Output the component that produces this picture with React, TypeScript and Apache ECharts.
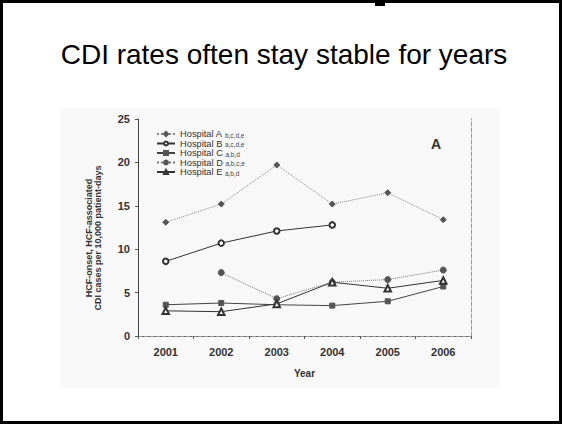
import React, { useEffect, useRef } from "react";
import * as echarts from "echarts";

const years = ["2001", "2002", "2003", "2004", "2005", "2006"];
const hospitalA = [13.1, 15.2, 19.7, 15.2, 16.5, 13.4];
const hospitalB = [8.6, 10.7, 12.1, 12.8, null, null];
const hospitalC = [3.6, 3.8, 3.6, 3.5, 4.0, 5.7];
const hospitalD = [null, 7.3, 4.3, 6.2, 6.5, 7.6];
const hospitalE = [2.9, 2.8, 3.7, 6.2, 5.5, 6.4];
const seriesNames = ["Hospital A", "Hospital B", "Hospital C", "Hospital D", "Hospital E"];
const significance = ["b,c,d,e", "a,c,d,e", "a,b,d", "a,b,c,e", "a,b,d"];
const yTicks = [0, 5, 10, 15, 20, 25];

const FONT = "'Liberation Sans', Arial, sans-serif";

export default function App() {
  const ref = useRef<HTMLDivElement>(null);
  useEffect(() => {
    if (!ref.current) return;
    const chart = echarts.init(ref.current, null, { renderer: "svg" });
    const supMap: Record<string, string> = {};
    seriesNames.forEach((n, i) => (supMap[n] = significance[i]));
    const mk = (
      name: string,
      data: (number | null)[],
      symbol: string,
      lineColor: string,
      lineType: string,
      symColor: string,
      size: number
    ) => ({
      name,
      type: "line",
      data,
      symbol,
      symbolSize: size,
      showSymbol: true,
      connectNulls: false,
      lineStyle: { color: lineColor, width: 1, type: lineType },
      itemStyle: { color: symColor, borderColor: symColor, borderWidth: 1 },
      emphasis: { disabled: true },
    });
    chart.setOption({
      animation: false,
      backgroundColor: "#ffffff",
      textStyle: { fontFamily: FONT },
      graphic: [
        { type: "rect", z: -10, shape: { x: 60, y: 108, width: 440, height: 279 }, style: { fill: "#f8f8f8" } },
        { type: "rect", shape: { x: 0, y: 0, width: 562, height: 3 }, style: { fill: "#000" } },
        { type: "rect", shape: { x: 0, y: 0, width: 3, height: 424 }, style: { fill: "#000" } },
        { type: "rect", shape: { x: 559, y: 0, width: 3, height: 424 }, style: { fill: "#000" } },
        { type: "rect", shape: { x: 0, y: 421, width: 562, height: 3 }, style: { fill: "#000" } },
        { type: "rect", shape: { x: 375, y: 0, width: 10, height: 6 }, style: { fill: "#000" } },
        {
          type: "text",
          x: 284,
          y: 54.5,
          style: {
            text: "CDI rates often stay stable for years",
            font: `28px ${FONT}`,
            fill: "#000",
            align: "center",
            verticalAlign: "middle",
          },
        },
        {
          type: "text",
          x: 93.5,
          y: 238,
          rotation: Math.PI / 2,
          style: {
            text: "HCF-onset, HCF-associated\nCDI cases per 10,000 patient-days",
            font: `bold 9px ${FONT}`,
            lineHeight: 9.5,
            fill: "#333",
            align: "center",
            verticalAlign: "middle",
          },
        },
        {
          type: "text",
          x: 436,
          y: 143.5,
          style: {
            text: "A",
            font: `bold 14px ${FONT}`,
            fill: "#333",
            align: "center",
            verticalAlign: "middle",
          },
        },
      ],
      grid: { left: 138, right: 91, top: 119, bottom: 88, containLabel: false },
      legend: {
        data: seriesNames,
        orient: "vertical",
        left: 156,
        top: 129.5,
        padding: 0,
        itemWidth: 18,
        itemHeight: 5,
        itemGap: 0.5,
        selectedMode: false,
        formatter: (name: string) => `{n|${name} }{s|${supMap[name]}}`,
        textStyle: {
          color: "#333",
          fontSize: 9,
          lineHeight: 9,
          rich: {
            n: { fontSize: 9.3, fontFamily: FONT, color: "#333", lineHeight: 9 },
            s: { fontSize: 6.5, fontFamily: FONT, color: "#444", lineHeight: 9, verticalAlign: "bottom" },
          },
        },
      },
      xAxis: [
        {
          type: "category",
          data: years,
          boundaryGap: true,
          name: "Year",
          nameLocation: "middle",
          nameGap: 32,
          nameTextStyle: { fontFamily: FONT, fontWeight: "bold", fontSize: 10, color: "#333" },
          axisLine: { lineStyle: { color: "#444", width: 1 } },
          axisTick: { show: true, length: 3, lineStyle: { color: "#555" } },
          axisLabel: { fontFamily: FONT, fontWeight: "bold", fontSize: 11, color: "#333", margin: 10 },
          splitLine: { show: false },
        },
        {
          type: "category",
          data: years,
          position: "top",
          axisLine: { lineStyle: { color: "#999", width: 1, type: "dashed" } },
          axisTick: { show: false },
          axisLabel: { show: false },
          splitLine: { show: false },
        },
      ],
      yAxis: [
        {
          type: "value",
          min: 0,
          max: 25,
          interval: 5,
          axisLine: { show: true, lineStyle: { color: "#444", width: 1 } },
          axisTick: { show: true, length: 3, lineStyle: { color: "#555" } },
          axisLabel: {
            fontFamily: FONT,
            fontWeight: "bold",
            fontSize: 11,
            color: "#333",
            margin: 8,
            formatter: (v: number) => (yTicks.includes(v) ? String(v) : ""),
          },
          splitLine: { show: false },
        },
        {
          type: "value",
          min: 0,
          max: 25,
          interval: 5,
          position: "right",
          axisLine: { show: true, lineStyle: { color: "#999", width: 1, type: "dashed" } },
          axisTick: { show: false },
          axisLabel: { show: false },
          splitLine: { show: false },
        },
      ],
      series: [
        mk("Hospital A", hospitalA, "diamond", "#888", "dotted", "#555", 6),
        mk("Hospital B", hospitalB, "emptyCircle", "#333", "solid", "#333", 5.5),
        mk("Hospital C", hospitalC, "rect", "#444", "solid", "#555", 5),
        mk("Hospital D", hospitalD, "circle", "#777", "dotted", "#555", 6),
        mk("Hospital E", hospitalE, "emptyTriangle", "#333", "solid", "#333", 6.5),
      ],
    });
    return () => chart.dispose();
  }, []);
  return (
    <div
      ref={ref}
      style={{ position: "fixed", left: 0, top: 0, width: 562, height: 424, background: "#fff" }}
    />
  );
}
